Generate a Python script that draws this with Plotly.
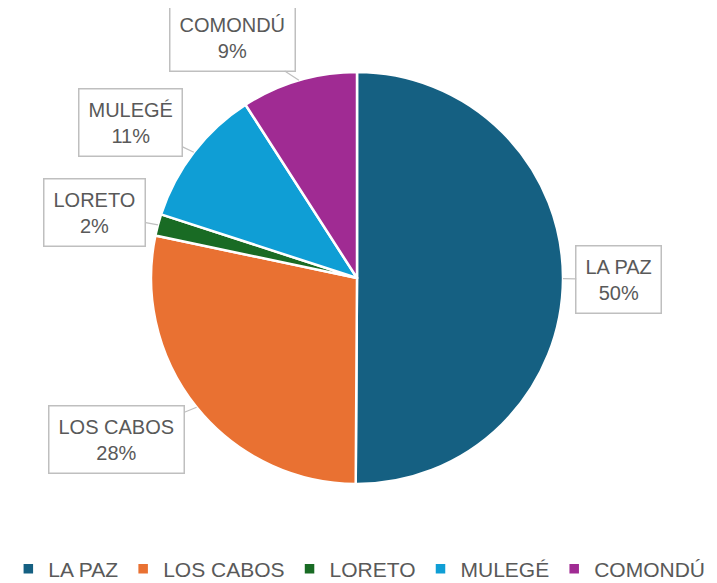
import math
import plotly.graph_objects as go

labels = ["LA PAZ", "LOS CABOS", "LORETO", "MULEGÉ", "COMONDÚ"]
values = [50.1, 28.2, 1.7, 10.9, 9.1]
colors = ["#156082", "#E97132", "#196B24", "#0F9ED5", "#A02B93"]
# pixel offsets of each callout box from its slice edge point (layout)
box_offsets = [(56, 1), (-80, 32), (-63, -12), (-63, -30), (-66, -43)]

W, H = 717, 583
cx, cy, r = 349, 270, 206  # pixel geometry of pie in figure coords (layout)

fig = go.Figure()
fig.add_trace(go.Pie(
    labels=labels, values=values, sort=False, direction="clockwise", rotation=0,
    marker=dict(colors=colors, line=dict(color="white", width=2.5)),
    textinfo="none", hoverinfo="label+percent",
    domain=dict(x=[(cx - r) / W, (cx + r) / W], y=[(H - cy - r) / H, (H - cy + r) / H]),
))

total = sum(values)
cum = 0.0
font = dict(family="Liberation Sans, Arial, sans-serif", size=20, color="#595959")
for lab, v, (ox, oy) in zip(labels, values, box_offsets):
    mid = (cum + v / 2) / total * 2 * math.pi
    cum += v
    px = cx + r * math.sin(mid)
    py = cy - r * math.cos(mid)
    fig.add_annotation(
        x=px / W, y=(H - py) / H, xref="paper", yref="paper",
        text=f"{lab}<br>{round(v / total * 100)}%",
        showarrow=True, arrowhead=0, arrowwidth=1.2, arrowcolor="#BFBFBF",
        ax=ox, ay=oy, axref="pixel", ayref="pixel",
        bordercolor="#BFBFBF", borderwidth=1.5, borderpad=9, bgcolor="white",
        font=font, align="center",
    )

fig.update_layout(
    width=W, height=H, margin=dict(l=0, r=0, t=0, b=0),
    paper_bgcolor="white", plot_bgcolor="white",
    showlegend=True,
    legend=dict(orientation="h", x=0.49, xanchor="center",
                y=(H - 561) / H, yanchor="middle",
                font=dict(family="Liberation Sans, Arial, sans-serif", size=21, color="#595959"),
                itemwidth=30, tracegroupgap=0),
    font=font,
)
fig.write_html("out.html")
